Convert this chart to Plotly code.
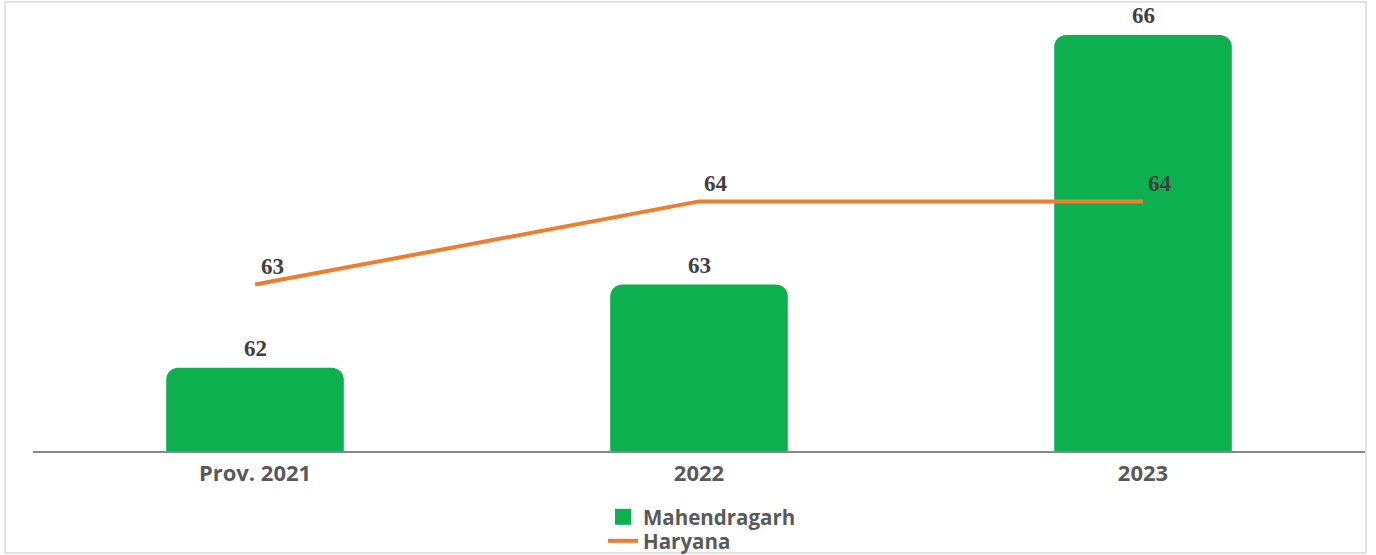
import plotly.graph_objects as go

categories = ["Prov. 2021", "2022", "2023"]
mahendragarh = [62, 63, 66]
haryana = [63, 64, 64]

GREEN = "#0CB04F"
ORANGE = "#ED7D31"
LABEL_FONT = dict(family="Liberation Serif", size=23, color="#404040")
TICK_FONT = dict(family="Open Sans", size=22, color="#595959", weight="bold")
LEG_FONT = dict(family="Open Sans", size=20.5, color="#595959", weight="bold")

fig = go.Figure()
fig.add_trace(go.Bar(
    x=categories, y=mahendragarh, name="Mahendragarh",
    marker=dict(color=GREEN, line=dict(width=0)),
    showlegend=False,
))
fig.add_trace(go.Scatter(
    x=categories, y=haryana, name="Haryana", mode="lines",
    line=dict(color=ORANGE, width=4), showlegend=False,
))
# legend proxies (one legend per entry for exact placement)
fig.add_trace(go.Scatter(
    x=[None], y=[None], name="Mahendragarh", mode="markers",
    marker=dict(symbol="square", size=22, color=GREEN), legend="legend",
))
fig.add_trace(go.Scatter(
    x=[None], y=[None], name="Haryana", mode="lines",
    line=dict(color=ORANGE, width=4), legend="legend2",
))

# data labels (x given as category index on the category axis)
for i, v in enumerate(mahendragarh):
    fig.add_annotation(x=i, y=v, text="<b>%d</b>" % v, showarrow=False,
                       yshift=19, font=LABEL_FONT)
for i, v in enumerate(haryana):
    fig.add_annotation(x=i, y=v, text="<b>%d</b>" % v, showarrow=False,
                       xshift=17, yshift=18, font=LABEL_FONT)

L, R, T, B = 33, 11, 10, 104
W, H = 1376, 555
pw, ph = W - L - R, H - T - B
fig.add_shape(type="rect", xref="paper", yref="paper",
              x0=(5 - L) / pw, x1=(1366 - L) / pw,
              y0=(H - B - 553) / ph, y1=(H - B - 2) / ph,
              line=dict(color="#D9D9D9", width=1.5), layer="below")

legend_common = dict(orientation="v", xref="container", yref="container",
                     x=603 / W, xanchor="left", yanchor="middle",
                     font=LEG_FONT, bgcolor="rgba(0,0,0,0)", itemwidth=30)

fig.update_layout(
    width=W, height=H,
    margin=dict(l=L, r=R, t=T, b=B, autoexpand=False),
    plot_bgcolor="white", paper_bgcolor="white",
    bargap=0.6, barcornerradius=12,
    xaxis=dict(type="category", range=[-0.5, 2.5], showline=True,
               linecolor="#888888", linewidth=2,
               showgrid=False, ticks="", ticklabelstandoff=2, tickfont=TICK_FONT,
               automargin=False),
    yaxis=dict(range=[61, 66.3], visible=False, showgrid=False),
    legend=dict(y=1 - 517 / H, **legend_common),
    legend2=dict(y=1 - 541 / H, **legend_common),
    showlegend=True,
)

fig.write_html("out.html", config={"displayModeBar": False},
               post_script="document.body.style.margin='0';")
